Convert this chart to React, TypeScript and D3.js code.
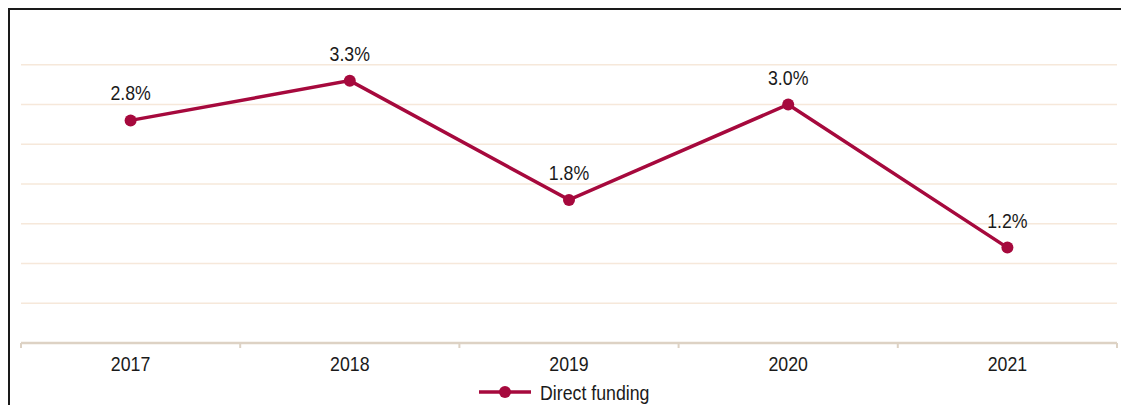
import { useEffect, useRef } from 'react'
import * as d3 from 'd3'

const years = ['2017', '2018', '2019', '2020', '2021']
const directFunding = [2.8, 3.3, 1.8, 3.0, 1.2]
const gridValues = [0.5, 1, 1.5, 2, 2.5, 3, 3.5]
const seriesName = 'Direct funding'

const W = 1121
const H = 405
const FONT = "'Liberation Sans Narrow', 'Arial Narrow', 'Liberation Sans', sans-serif"
const RED = '#a6093d'
const TXT = '#1a1a1a'
const SQUEEZE = 0.845 // narrow look, no condensed font installed

const App = () => {
  const svgRef = useRef<SVGSVGElement>(null)

  useEffect(() => {
    const svg = d3.select(svgRef.current)
    svg.selectAll('*').remove()

    const margin = { left: 21, right: 4, top: 24, bottom: 62 }
    const x = d3
      .scaleBand()
      .domain(years)
      .range([margin.left, W - margin.right])
    const y = d3
      .scaleLinear()
      .domain([0, 4])
      .range([H - margin.bottom, H - margin.bottom - 4 * 79.5])

    const label = (g: any, tx: number, ty: number, s: string, anchor = 'middle') =>
      g.append('text')
        .attr('transform', `translate(${tx},${ty}) scale(${SQUEEZE},1)`)
        .attr('text-anchor', anchor)
        .attr('font-family', FONT)
        .attr('font-size', 21)
        .attr('fill', TXT)
        .text(s)

    // frame (top + left only)
    svg.append('line').attr('x1', 9).attr('x2', W).attr('y1', 9).attr('y2', 9)
      .attr('stroke', TXT).attr('stroke-width', 2)
    svg.append('line').attr('x1', 9).attr('x2', 9).attr('y1', 8).attr('y2', H)
      .attr('stroke', TXT).attr('stroke-width', 2)

    // gridlines
    svg.append('g')
      .selectAll('line')
      .data(gridValues)
      .join('line')
      .attr('x1', margin.left)
      .attr('x2', W - margin.right)
      .attr('y1', (d) => y(d))
      .attr('y2', (d) => y(d))
      .attr('stroke', '#f6e8da')
      .attr('stroke-width', 1.5)

    // x axis
    const edges = years.map((d) => x(d) as number).concat([x.range()[1]])
    svg.append('line')
      .attr('x1', margin.left).attr('x2', W - margin.right)
      .attr('y1', y(0)).attr('y2', y(0))
      .attr('stroke', '#ddd2c4').attr('stroke-width', 2.5)
    svg.append('g')
      .selectAll('line')
      .data(edges)
      .join('line')
      .attr('x1', (d) => d).attr('x2', (d) => d)
      .attr('y1', y(0)).attr('y2', y(0) + 5)
      .attr('stroke', '#ddd2c4').attr('stroke-width', 2)
    const xg = svg.append('g')
    years.forEach((d) => label(xg, (x(d) as number) + x.bandwidth() / 2, y(0) + 28, d))

    // series
    const cx = (i: number) => (x(years[i]) as number) + x.bandwidth() / 2
    const line = d3.line<number>().x((_, i) => cx(i)).y((d) => y(d))
    svg.append('path')
      .datum(directFunding)
      .attr('d', line)
      .attr('fill', 'none')
      .attr('stroke', RED)
      .attr('stroke-width', 3.5)

    svg.append('g')
      .selectAll('circle')
      .data(directFunding)
      .join('circle')
      .attr('cx', (_, i) => cx(i))
      .attr('cy', (d) => y(d))
      .attr('r', 6)
      .attr('fill', RED)

    const vg = svg.append('g')
    directFunding.forEach((d, i) => label(vg, cx(i), y(d) - 20, `${d.toFixed(1)}%`))

    // legend
    const lg = svg.append('g').attr('transform', 'translate(479,392)')
    lg.append('line').attr('x1', 0).attr('x2', 52).attr('y1', 0).attr('y2', 0)
      .attr('stroke', RED).attr('stroke-width', 3.5)
    lg.append('circle').attr('cx', 26).attr('cy', 0).attr('r', 6).attr('fill', RED)
    label(lg, 61, 8, seriesName, 'start')
  }, [])

  return (
    <svg
      ref={svgRef}
      width={W}
      height={H}
      style={{ position: 'absolute', left: 0, top: 0, display: 'block', background: '#fff' }}
    />
  )
}

export default App
